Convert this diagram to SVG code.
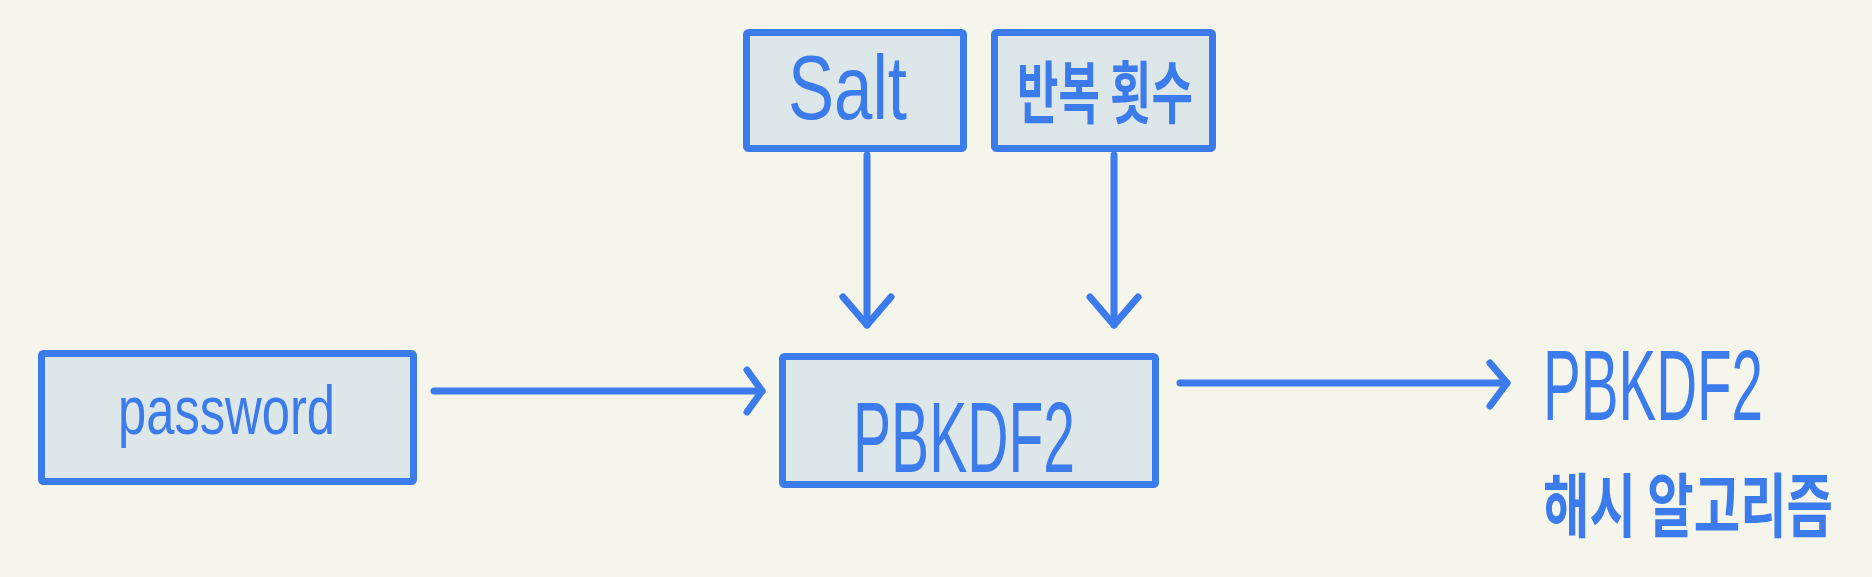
<svg xmlns="http://www.w3.org/2000/svg" width="1872" height="577" viewBox="0 0 1872 577">
<style>
.box{fill:#dde6e8;stroke:#3b7bec;stroke-width:7;stroke-linejoin:round}
.ln{fill:none;stroke:#3b7bec;stroke-width:7;stroke-linecap:round;stroke-linejoin:round}
.t{fill:#3b7bec;font-family:"Liberation Sans","Noto Sans",sans-serif}
.k{fill:#3b7bec;font-family:"Noto Sans CJK KR","Noto Sans",sans-serif;font-weight:bold}
</style>
<rect width="1872" height="577" fill="#f5f5ec"/>
<g id="connectors">
<path class="ln" d="M867 155 V325"/>
<path class="ln" d="M843 297 L867 325 L891 297"/>
<path class="ln" d="M1114 155 V325"/>
<path class="ln" d="M1090 297 L1114 325 L1138 297"/>
<path class="ln" d="M434 391 H762"/>
<path class="ln" d="M747 370 L762 391 L747 412"/>
<path class="ln" d="M1180 383 H1507"/>
<path class="ln" d="M1490 363 L1507 383 L1490 406"/>
</g>
<g id="salt">
<rect class="box" x="746.500" y="32.500" width="217" height="116" rx="2"/>
<text class="t" x="788" y="119" font-size="90" textLength="119" lengthAdjust="spacingAndGlyphs">Salt</text>
</g>
<g id="iterations">
<rect class="box" x="994.500" y="32.500" width="218" height="116" rx="2"/>
<text class="k" x="1017" y="118" font-size="68" textLength="176" lengthAdjust="spacingAndGlyphs">반복 횟수</text>
</g>
<g id="password">
<rect class="box" x="41.500" y="353.500" width="372" height="128" rx="2"/>
<text class="t" x="118" y="434" font-size="68" textLength="217" lengthAdjust="spacingAndGlyphs">password</text>
</g>
<g id="pbkdf2">
<rect class="box" x="782.500" y="356.500" width="373" height="128" rx="2"/>
<text class="t" x="853" y="472" font-size="100" textLength="222" lengthAdjust="spacingAndGlyphs">PBKDF2</text>
</g>
<g id="output">
<text class="t" transform="translate(1543 420) scale(1 1.25)" x="0" y="0" font-size="80" textLength="220" lengthAdjust="spacingAndGlyphs">PBKDF2</text>
<text class="k" transform="translate(1543 532) scale(1 1.4)" x="0" y="0" font-size="50" textLength="290" lengthAdjust="spacingAndGlyphs">해시 알고리즘</text>
</g>
</svg>
